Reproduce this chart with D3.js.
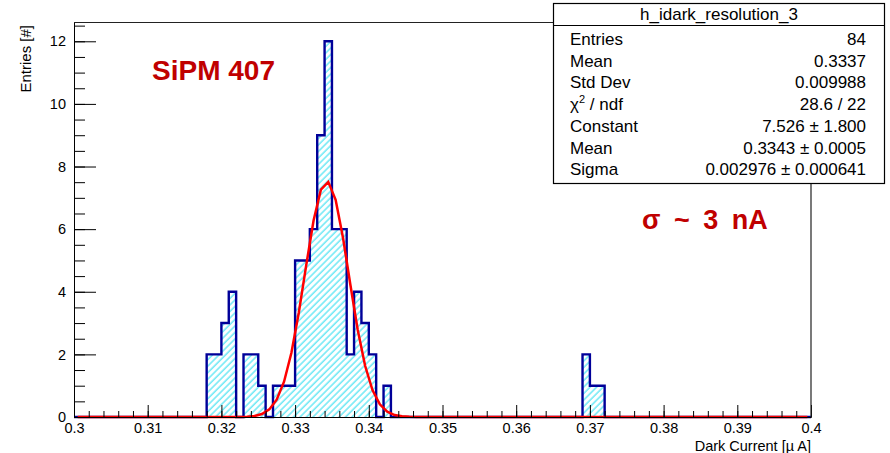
<!DOCTYPE html>
<html>
<head>
<meta charset="utf-8">
<script src="https://cdn.jsdelivr.net/npm/d3@7/dist/d3.min.js"></script>
<style>
body { margin: 0; background: #fff; }
text { font-family: "Liberation Sans", Arial, Helvetica, sans-serif; }
</style>
</head>
<body>
<div id="chart"></div>
<script>
// h_idark_resolution_3 : 100 bins between 0.3 and 0.4
var histRange = [0.3, 0.4];
var nBins = 100;
var binLow   = [0.318, 0.319, 0.320, 0.321, 0.323, 0.324, 0.325, 0.327, 0.328, 0.329,
                0.330, 0.331, 0.332, 0.333, 0.334, 0.335, 0.336, 0.337, 0.338, 0.339,
                0.340, 0.342, 0.369, 0.370, 0.371];
var binCount = [2, 2, 3, 4, 2, 2, 1, 1, 1, 1,
                5, 5, 6, 9, 12, 6, 6, 2, 4, 3,
                2, 1, 2, 1, 1];

// gaus fit
var fitConstant = 7.526;
var fitMean = 0.3343;
var fitSigma = 0.002976;

var yMax = 12.6;
var xTicks = [0.3, 0.31, 0.32, 0.33, 0.34, 0.35, 0.36, 0.37, 0.38, 0.39, 0.4];
var xTickLabels = ["0.3", "0.31", "0.32", "0.33", "0.34", "0.35", "0.36", "0.37", "0.38", "0.39", "0.4"];
var yTicks = [0, 2, 4, 6, 8, 10, 12];

var xTitle = "Dark Current [\u00b5 A]";
var yTitle = "Entries [#]";

var statTitle = "h_idark_resolution_3";
var statLabels = ["Entries", "Mean", "Std Dev", "chi2", "Constant", "Mean", "Sigma"];
var statValues = ["84", "0.3337", "0.009988", "28.6 / 22", "7.526 \u00b1 1.800", "0.3343 \u00b1 0.0005", "0.002976 \u00b1 0.000641"];

var noteSipm = "SiPM 407";
var noteSigma = "\u03c3 ~ 3 nA";

var histo = {};
(function(context) {

    var svg, x, y;
    var width = 890;
    var height = 453;

    var left = 74, right = 811, top = 22.5, bottom = 417;

    context.setup = function(name) {
        svg = d3.select(name).append("svg")
            .attr("width", width)
            .attr("height", height);

        x = d3.scaleLinear().domain(histRange).range([left, right]);
        y = d3.scaleLinear().domain([0, yMax]).range([bottom, top]);

        var defs = svg.append("defs");
        var pat = defs.append("pattern")
            .attr("id", "hatch")
            .attr("patternUnits", "userSpaceOnUse")
            .attr("width", 4.6)
            .attr("height", 4.6)
            .attr("patternTransform", "rotate(45)");
        pat.append("line")
            .attr("x1", 1).attr("y1", 0)
            .attr("x2", 1).attr("y2", 4.6)
            .attr("stroke", "#22dcf0")
            .attr("stroke-width", 1);
    }

    context.histogram = function() {
        var bw = (histRange[1] - histRange[0]) / nBins;
        var counts = d3.range(nBins).map(function() { return 0; });
        for (var j = 0; j < binLow.length; j++) {
            var idx = Math.round((binLow[j] - histRange[0]) / bw);
            counts[idx] = binCount[j];
        }

        var pts = [[histRange[0], 0]];
        for (var i = 0; i < nBins; i++) {
            var lo = histRange[0] + i * bw;
            pts.push([lo, counts[i]]);
            pts.push([lo + bw, counts[i]]);
        }
        pts.push([histRange[1], 0]);

        var area = d3.area()
            .x(function(d) { return x(d[0]); })
            .y0(y(0))
            .y1(function(d) { return y(d[1]); });

        var line = d3.line()
            .x(function(d) { return x(d[0]); })
            .y(function(d) { return y(d[1]); });

        svg.append("path")
            .attr("d", area(pts))
            .attr("fill", "url(#hatch)");

        svg.append("path")
            .attr("d", line(pts))
            .attr("fill", "none")
            .attr("stroke", "#000099")
            .attr("stroke-width", 2.4)
            .attr("stroke-linejoin", "miter");

        // fit function sampled at the bin centres
        var fpts = d3.range(nBins).map(function(i) {
            var xc = histRange[0] + (i + 0.5) * bw;
            var z = (xc - fitMean) / fitSigma;
            return [xc, fitConstant * Math.exp(-0.5 * z * z)];
        });
        svg.append("path")
            .attr("d", line(fpts))
            .attr("fill", "none")
            .attr("stroke", "#ff0000")
            .attr("stroke-width", 2.5);
    }

    context.axes = function() {
        var xMinor = d3.range(0, 51).map(function(i) { return 0.3 + i * 0.002; });
        var yMinor = d3.range(0, 26).map(function(i) { return i * 0.5; });

        svg.append("g")
            .attr("transform", "translate(0," + bottom + ")")
            .call(d3.axisBottom(x).tickValues(xMinor).tickSize(-6).tickSizeOuter(0).tickFormat(""));
        svg.append("g")
            .attr("transform", "translate(0," + bottom + ")")
            .call(d3.axisBottom(x).tickValues(xTicks).tickSize(-12).tickSizeOuter(0).tickPadding(6)
                .tickFormat(function(d, i) { return xTickLabels[i]; }));

        svg.append("g")
            .attr("transform", "translate(" + left + ",0)")
            .call(d3.axisLeft(y).tickValues(yMinor).tickSize(-11).tickSizeOuter(0).tickFormat(""));
        svg.append("g")
            .attr("transform", "translate(" + left + ",0)")
            .call(d3.axisLeft(y).tickValues(yTicks).tickSize(-22).tickSizeOuter(0).tickPadding(8));

        svg.selectAll(".tick text")
            .attr("font-size", 14.5)
            .attr("font-family", "Liberation Sans, Arial, sans-serif")
            .attr("fill", "#000");
        svg.selectAll(".domain").attr("stroke", "#000");

        // frame top / right
        svg.append("path")
            .attr("d", "M" + left + "," + top + "H" + right + "V" + bottom)
            .attr("fill", "none")
            .attr("stroke", "#222")
            .attr("stroke-width", 1.2);

        svg.append("text")
            .attr("x", right)
            .attr("y", 451)
            .attr("text-anchor", "end")
            .attr("font-size", 14.5)
            .text(xTitle);

        svg.append("text")
            .attr("transform", "translate(31,25) rotate(-90)")
            .attr("text-anchor", "end")
            .attr("font-size", 15)
            .text(yTitle);
    }

    context.stats = function() {
        var bx = 553.5, by = 3.5, bw = 331, bh = 180;
        var g = svg.append("g");
        g.append("rect")
            .attr("x", bx).attr("y", by)
            .attr("width", bw).attr("height", bh)
            .attr("fill", "#fff")
            .attr("stroke", "#000")
            .attr("stroke-width", 1.2);
        g.append("line")
            .attr("x1", bx).attr("x2", bx + bw)
            .attr("y1", 25.5).attr("y2", 25.5)
            .attr("stroke", "#000")
            .attr("stroke-width", 1.2);
        g.append("text")
            .attr("x", bx + bw / 2)
            .attr("y", 20)
            .attr("text-anchor", "middle")
            .attr("font-size", 17)
            .text(statTitle);

        var rows = g.selectAll(".row")
            .data(statLabels)
            .enter()
            .append("g")
            .attr("transform", function(d, i) { return "translate(0," + (45 + i * 21.7) + ")"; });

        rows.append("text")
            .attr("x", 570)
            .attr("font-size", 17)
            .each(function(d) {
                var t = d3.select(this);
                if (d === "chi2") {
                    t.append("tspan").text("\u03c7");
                    t.append("tspan").attr("font-size", 11).attr("dy", -7).text("2");
                    t.append("tspan").attr("dy", 7).text(" / ndf");
                } else {
                    t.text(d);
                }
            });

        rows.append("text")
            .attr("x", 866)
            .attr("text-anchor", "end")
            .attr("font-size", 17)
            .text(function(d, i) { return statValues[i]; });
    }

    context.notes = function() {
        svg.append("text")
            .attr("x", 152)
            .attr("y", 80)
            .attr("font-family", "Open Sans, sans-serif")
            .attr("font-weight", 700)
            .attr("font-size", 28)
            .attr("fill", "#c00000")
            .text(noteSipm);

        svg.append("text")
            .attr("x", 642)
            .attr("y", 229)
            .attr("font-family", "Open Sans, sans-serif")
            .attr("font-weight", 700)
            .attr("font-size", 27)
            .attr("word-spacing", 6)
            .attr("fill", "#c00000")
            .attr("xml:space", "preserve")
            .text(noteSigma);
    }

})(histo);

histo.setup("#chart");
histo.histogram();
histo.axes();
histo.stats();
histo.notes();
</script>
</body>
</html>
